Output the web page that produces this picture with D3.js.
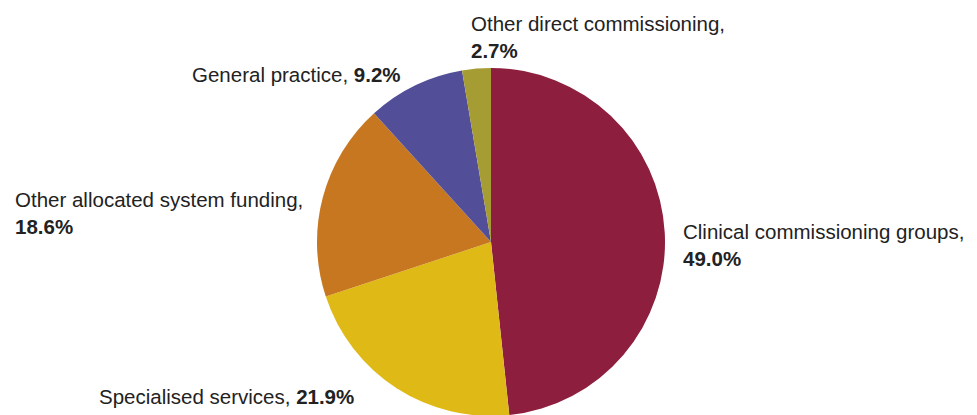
<!DOCTYPE html>
<html><head><meta charset="utf-8">
<script src="https://cdn.jsdelivr.net/npm/d3@7"></script>
<style>body{margin:0;background:#fff}svg{display:block}text{font-family:"Liberation Sans",Arial,sans-serif;font-size:20.5px;fill:#222}</style>
</head><body>
<script>
const categories = ["Clinical commissioning groups","Specialised services","Other allocated system funding","General practice","Other direct commissioning"];
const values = [49.0, 21.9, 18.6, 9.2, 2.7];
const labels = ["49.0%","21.9%","18.6%","9.2%","2.7%"];
const colors = ["#8E1E3E","#DFB915","#C77720","#524F98","#A69C34"];

const W=977,H=415, cx=491, cy=242, r=174;
const svg=d3.select("body").append("svg").attr("width",W).attr("height",H);
const pie=d3.pie().sort(null).value(d=>d)(values);
const arc=d3.arc().innerRadius(0).outerRadius(r);
const g=svg.append("g").attr("transform",`translate(${cx},${cy})`);
g.selectAll("path").data(pie).join("path").attr("d",arc).attr("fill",(d,i)=>colors[i]);

// label layout: [x, y, twoLines]
const pos = [[683,239,true],[99,404,false],[15,207,true],[192,82,false],[471,31,true]];
pos.forEach((p,i)=>{
  const t=svg.append("text").attr("x",p[0]).attr("y",p[1]);
  if(p[2]){
    t.append("tspan").text(categories[i]+",");
    t.append("tspan").attr("x",p[0]).attr("dy",26.5).attr("font-weight","bold").text(labels[i]);
  } else {
    t.append("tspan").text(categories[i]+", ");
    t.append("tspan").attr("font-weight","bold").text(labels[i]);
  }
});
</script>
</body></html>
